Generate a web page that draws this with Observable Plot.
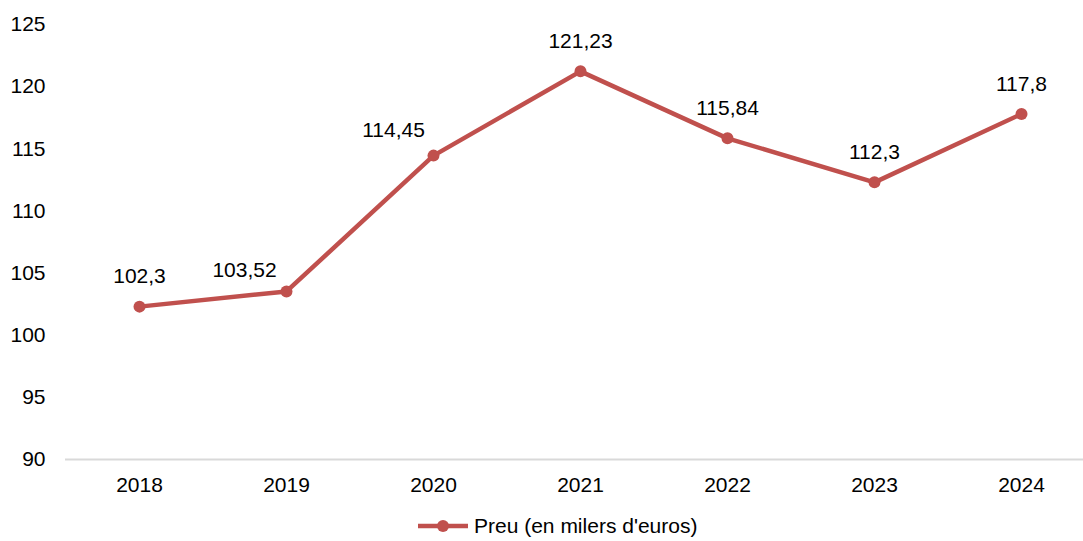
<!DOCTYPE html>
<html>
<head>
<meta charset="utf-8">
<script src="https://cdn.jsdelivr.net/npm/d3@7"></script>
<script src="https://cdn.jsdelivr.net/npm/@observablehq/plot@0.6"></script>
<style>
  html, body { margin: 0; padding: 0; background: #fff; }
  body { width: 1083px; height: 541px; overflow: hidden; font-family: "Liberation Sans", Arial, sans-serif; }
  #legend { height: 31px; position: relative; }
  #legend .item { position: absolute; left: 418px; top: 4px; display: flex; align-items: center; font-size: 21px; color: #000; }
</style>
</head>
<body>
<div id="chart"></div>
<div id="legend"></div>
<script>
const years = ["2018", "2019", "2020", "2021", "2022", "2023", "2024"];
const values = [102.3, 103.52, 114.45, 121.23, 115.84, 112.3, 117.8];
const labels = ["102,3", "103,52", "114,45", "121,23", "115,84", "112,3", "117,8"];
const yTicks = [90, 95, 100, 105, 110, 115, 120, 125];
const seriesName = "Preu (en milers d'euros)";
const color = "#C0504D";

const data = years.map((y, i) => ({year: y, value: values[i], label: labels[i]}));
const textStyle = {x: "year", y: "value", text: "label", fontSize: 21, fill: "#000"};

const chart = Plot.plot({
  width: 1083,
  height: 510,
  marginLeft: 65,
  marginRight: 0,
  marginTop: 24,
  marginBottom: 51,
  style: {fontFamily: "'Liberation Sans', Arial, sans-serif", fontSize: "21px", color: "#000", background: "#fff"},
  x: {type: "point", domain: years, range: [138, 1021], padding: 0, label: null},
  y: {domain: [90, 125], label: null},
  marks: [
    Plot.ruleY([90], {stroke: "#d9d9d9", strokeWidth: 2}),
    Plot.axisY({ticks: yTicks, tickSize: 0, tickPadding: 20, fontSize: 21, label: null}),
    Plot.axisX({tickSize: 0, tickPadding: 18, fontSize: 21, label: null}),
    Plot.line(data, {x: "year", y: "value", stroke: color, strokeWidth: 4.5}),
    Plot.dot(data, {x: "year", y: "value", fill: color, r: 6}),
    Plot.text(data.filter((d, i) => i !== 1 && i !== 2), {...textStyle, dy: -30}),
    Plot.text(data.filter((d, i) => i === 1), {...textStyle, dx: -42, dy: -21}),
    Plot.text(data.filter((d, i) => i === 2), {...textStyle, dx: -40, dy: -25})
  ]
});
document.getElementById("chart").appendChild(chart);

const legend = document.getElementById("legend");
legend.innerHTML = `<div class="item"><svg width="54" height="14" style="margin-right:2px"><line x1="0" y1="7" x2="50" y2="7" stroke="${color}" stroke-width="4.5"/><circle cx="25" cy="7" r="6" fill="${color}"/></svg><span>${seriesName}</span></div>`;
</script>
</body>
</html>
